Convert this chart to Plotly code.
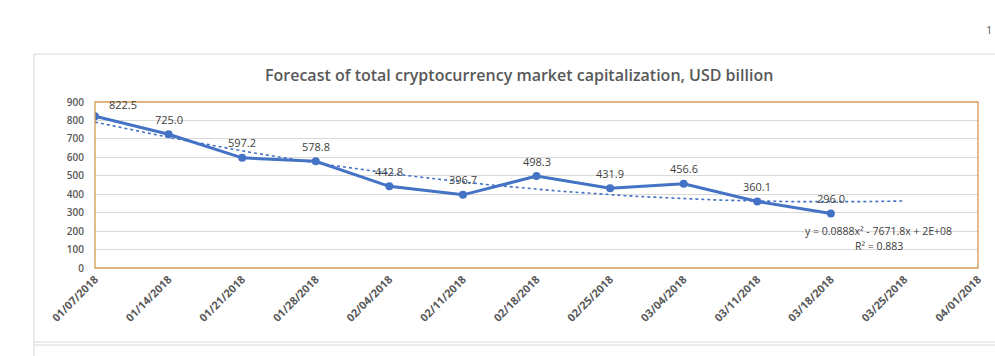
import numpy as np
import pandas as pd
import plotly.graph_objects as go

# ---- data ----
dates = ["2018-01-07", "2018-01-14", "2018-01-21", "2018-01-28", "2018-02-04",
         "2018-02-11", "2018-02-18", "2018-02-25", "2018-03-04", "2018-03-11",
         "2018-03-18"]
market_cap = [822.5, 725.0, 597.2, 578.8, 442.8, 396.7, 498.3, 431.9, 456.6, 360.1, 296.0]
value_labels = ["822.5", "725.0", "597.2", "578.8", "442.8", "396.7", "498.3",
                "431.9", "456.6", "360.1", "296.0"]
title_text = "Forecast of total cryptocurrency market capitalization, USD billion"
equation_text = "y = 0.0888x² - 7671.8x + 2E+08"
r2_text = "R² = 0.883"
forecast_periods = 1  # trendline extended one week forward

# ---- geometry (pixels) ----
W, H = 995, 356
L, R, T, B = 95, 978, 102, 268
pw, ph = R - L, B - T


def px(x):
    return (x - L) / pw


def py(y):
    return (B - y) / ph


# ---- polynomial (order 2) trendline fitted to the data ----
d = pd.to_datetime(dates)
t_days = np.array([(v - d[0]).days for v in d], dtype=float)
coef = np.polyfit(t_days, np.array(market_cap), 2)
t_end = t_days[-1] + 7 * forecast_periods
t_fine = np.linspace(0, t_end, 120)
trend_dates = d[0] + pd.to_timedelta(t_fine, unit="D")
trend_vals = np.polyval(coef, t_fine)

blue = "#4472C4"
grey_text = "#595959"
label_text = "#404040"
border = "#D49A52"

fig = go.Figure()
fig.add_trace(go.Scatter(
    x=trend_dates, y=trend_vals, mode="lines",
    line=dict(color=blue, width=1.6, dash="dot"),
    hoverinfo="skip", showlegend=False,
))
fig.add_trace(go.Scatter(
    x=d, y=market_cap, mode="lines+markers",
    line=dict(color=blue, width=3),
    marker=dict(color=blue, size=8),
    showlegend=False,
))

annotations = []
for i, (xv, yv, txt) in enumerate(zip(d, market_cap, value_labels)):
    if i == 0:
        annotations.append(dict(
            x=xv, y=yv, xref="x", yref="y", text=txt, showarrow=False,
            xanchor="left", yshift=12, xshift=12,
            font=dict(family="Open Sans", size=11, color=label_text),
        ))
    else:
        annotations.append(dict(
            x=xv, y=yv, xref="x", yref="y", text=txt, showarrow=False,
            yshift=15,
            font=dict(family="Open Sans", size=11, color=label_text),
        ))

annotations += [
    dict(x=px(519), y=py(75), xref="paper", yref="paper", text=title_text,
         showarrow=False, xanchor="center", yanchor="middle",
         font=dict(family="Open Sans", size=16, color=grey_text, weight=600)),
    dict(x=px(878), y=py(231), xref="paper", yref="paper", text=equation_text,
         showarrow=False, xanchor="center", yanchor="middle",
         font=dict(family="Open Sans", size=10.5, color=label_text)),
    dict(x=px(879), y=py(246), xref="paper", yref="paper", text=r2_text,
         showarrow=False, xanchor="center", yanchor="middle",
         font=dict(family="Open Sans", size=10.5, color=label_text)),
    dict(x=px(994), y=py(30), xref="paper", yref="paper", text="1",
         showarrow=False, xanchor="right", yanchor="middle",
         font=dict(family="Open Sans", size=11, color=grey_text)),
]

frame = "#D9D9D9"
shapes = [
    # outer chart frame
    dict(type="line", xref="paper", yref="paper", x0=px(34), x1=px(1000),
         y0=py(54), y1=py(54), line=dict(color=frame, width=1)),
    dict(type="line", xref="paper", yref="paper", x0=px(34), x1=px(34),
         y0=py(54), y1=py(360), line=dict(color=frame, width=1)),
    dict(type="line", xref="paper", yref="paper", x0=px(34), x1=px(1000),
         y0=py(342), y1=py(342), line=dict(color=frame, width=1)),
    dict(type="line", xref="paper", yref="paper", x0=px(34), x1=px(1000),
         y0=py(345), y1=py(345), line=dict(color=frame, width=1)),
    # plot-area border
    dict(type="rect", xref="paper", yref="paper", x0=0, x1=1, y0=0, y1=1,
         line=dict(color=border, width=1.3), layer="above"),
]

fig.update_layout(
    width=W, height=H,
    margin=dict(l=L, r=W - R, t=T, b=H - B),
    paper_bgcolor="white", plot_bgcolor="white",
    annotations=annotations, shapes=shapes,
    xaxis=dict(
        type="date", range=[d[0], pd.Timestamp("2018-04-01")],
        tick0=d[0], dtick=7 * 24 * 3600 * 1000, tickformat="%m/%d/%Y",
        tickangle=-45, showgrid=False, zeroline=False, showline=False,
        ticks="", ticklabelstandoff=2,
        tickfont=dict(family="Open Sans", size=11, color=grey_text, weight="bold"),
    ),
    yaxis=dict(
        range=[0, 900], dtick=100, showgrid=True, gridcolor="#D9D9D9",
        gridwidth=1, zeroline=False, showline=False, ticks="",
        ticklabelstandoff=10,
        tickfont=dict(family="Open Sans", size=10, color=grey_text, weight=600),
    ),
)

fig.write_html("out.html", config={"displayModeBar": False},
               post_script="document.body.style.margin='0';document.body.style.overflow='hidden';")
